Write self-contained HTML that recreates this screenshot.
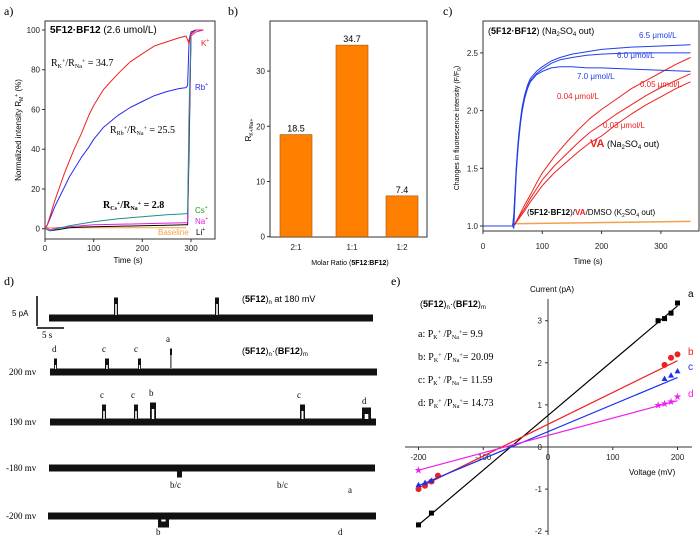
<!DOCTYPE html>
<html><head><meta charset="utf-8"><style>
html,body{margin:0;padding:0;background:#fff;}
svg{display:block;font-family:"Liberation Sans",Arial,sans-serif;}
.serif{font-family:"Liberation Serif",serif;}
.tk{font-size:8px;fill:#222;}
</style></head><body>
<svg id="fig" width="700" height="544" viewBox="0 0 700 544" xmlns="http://www.w3.org/2000/svg">
<g id="pa"></g>
<g id="pb"></g>
<g id="pc"></g>
<g id="pd"></g>
<g id="pe"></g>
</svg>
<script>
// ---------- Panel a data ----------
const aTimesKR=[0,5,10,15,20,30,40,50,60,75,90,100,120,150,175,200,225,250,275,290,293,296,300,310,325];
const aK=[0,2,6,10,14,21,28,34,40,48,57,62,70,78,84,88,92,94,96,97,95,93,98,100,100];
const aRb=[0,2,5,8,11,16,21,26,30,36,41,45,51,57,61,64,67,69,70.5,71,72,95,99,100,100];
const aTimes=[0,10,25,50,75,100,150,200,250,290,293,296,300,310,325];
const aCs=[0,-1,0,1.5,2.5,3.5,5,6,7,7.5,8,60,99,100,100];
const aNa=[1,-0.5,0.5,1,1.5,2,2.2,2.5,2.8,3,3,50,97,99,100];
const aLi=[0,-1,-0.5,0.5,0.8,1,1.2,1.5,1.7,2,2,40,98,100,100];
const aBaseTimes=[0,290];
const aBase=[0.5,0.5];
const aXTicks=[0,100,200,300];
const aYTicks=[0,20,40,60,80,100];
// ---------- Panel b data ----------
const bCats=["2:1","1:1","1:2"];
const bVals=[18.5,34.7,7.4];
const bYTicks=[0,10,20,30];
// ---------- Panel c data ----------
const cTimes=[0,50,52,54,56,58,60,63,66,70,75,80,90,100,115,130,150,175,200,250,300,350];
const cB65=[1,1,1.1,1.3,1.5,1.65,1.78,1.92,2.03,2.13,2.22,2.28,2.34,2.38,2.43,2.46,2.49,2.51,2.53,2.55,2.56,2.57];
const cB60=[1,1,1.08,1.28,1.48,1.63,1.76,1.9,2.01,2.11,2.2,2.26,2.32,2.36,2.41,2.44,2.46,2.48,2.49,2.5,2.5,2.5];
const cB70=[1,1,0.98,1.22,1.45,1.6,1.73,1.88,1.99,2.1,2.19,2.25,2.31,2.34,2.37,2.38,2.38,2.37,2.37,2.36,2.35,2.34];
const cRTimes=[52,60,70,80,90,100,120,140,160,180,200,225,250,275,300,325,350];
const cR04=[1.0,1.08,1.18,1.27,1.37,1.46,1.6,1.72,1.83,1.93,2.01,2.1,2.19,2.26,2.33,2.4,2.46];
const cR05=[1.0,1.07,1.15,1.24,1.32,1.4,1.52,1.62,1.72,1.81,1.88,1.97,2.05,2.13,2.2,2.26,2.32];
const cR03=[1.0,1.06,1.13,1.21,1.28,1.35,1.46,1.55,1.64,1.72,1.78,1.88,1.97,2.05,2.12,2.19,2.25];
const cOTimes=[50,350];
const cOrange=[1.02,1.04];
const cXTicks=[0,100,200,300];
const cYTicks=[1.0,1.5,2.0,2.5];
// ---------- Panel e data ----------
const eAx=[-200,-180,170,180,190,200], eAy=[-1.85,-1.57,3.0,3.05,3.18,3.42], eAfit=[-1.85,3.35];
const eBx=[-200,-190,-180,-170,180,190,200], eBy=[-1.0,-0.92,-0.82,-0.68,1.95,2.12,2.2], eBfit=[-0.97,2.05];
const eCx=[-200,-190,-180,180,190,200], eCy=[-0.9,-0.85,-0.8,1.62,1.7,1.8], eCfit=[-0.92,1.65];
const eDx=[-200,170,180,190,200], eDy=[-0.55,1.0,1.03,1.08,1.2], eDfit=[-0.55,1.1];
const eXTicks=[-200,-100,0,100,200];
const eYTicks=[-2,-1,0,1,2,3];

const NS="http://www.w3.org/2000/svg";
function mk(parent,tag,attrs,txt){const e=document.createElementNS(NS,tag);for(const k in attrs)e.setAttribute(k,attrs[k]);if(txt!==undefined)e.innerHTML=txt;parent.appendChild(e);return e;}
function pathOf(xs,ys,sx,sy){return xs.map((x,i)=>(i?'L':'M')+sx(x).toFixed(1)+','+sy(ys[i]).toFixed(1)).join('');}

// ===== Panel a =====
(function(){
const g=document.getElementById('pa');
const sx=t=>45+t*(146/300), sy=v=>228.7-v*1.987;
let t=mk(g,'text',{x:4,y:15,class:'serif','font-size':12},'a)');
const box=mk(g,'rect',{x:45,y:21,width:170,height:218,fill:'none',stroke:'#333','stroke-width':1});

aXTicks.forEach(v=>{mk(g,'line',{x1:sx(v),x2:sx(v),y1:239,y2:242,stroke:'#333'});const tx=mk(g,'text',{x:sx(v),y:251,'text-anchor':'middle',class:'tk'},v);});
aYTicks.forEach(v=>{mk(g,'line',{x1:42,x2:45,y1:sy(v),y2:sy(v),stroke:'#333'});const tx=mk(g,'text',{x:40,y:sy(v)+3,'text-anchor':'end',class:'tk'},v);});
const series=[[aBase,'#f5a040',aBaseTimes],[aLi,'#000',aTimes],[aNa,'#e020e0',aTimes],[aCs,'#20908a',aTimes],[aRb,'#2a2aee',aTimesKR],[aK,'#ee2222',aTimesKR]];
const nm=['baseline','li','na','cs','rb','k'];
series.forEach((s,i)=>{const p=mk(g,'path',{d:pathOf(s[2],s[0],sx,sy),fill:'none',stroke:s[1],'stroke-width':1,'stroke-linejoin':'round'});});
t=mk(g,'text',{x:50,y:33,'font-size':10},'<tspan font-weight="bold">5F12·BF12</tspan> (2.6 umol/L)');
t=mk(g,'text',{x:51,y:66,class:'serif','font-size':10},'R<tspan font-size="6" dy="2">K</tspan><tspan font-size="6" dy="-5">+</tspan><tspan dy="3">/R</tspan><tspan font-size="6" dy="2">Na</tspan><tspan font-size="6" dy="-5">+</tspan><tspan dy="3"> = 34.7</tspan>');
t=mk(g,'text',{x:110,y:133,class:'serif','font-size':10},'R<tspan font-size="6" dy="2">Rb</tspan><tspan font-size="6" dy="-5">+</tspan><tspan dy="3">/R</tspan><tspan font-size="6" dy="2">Na</tspan><tspan font-size="6" dy="-5">+</tspan><tspan dy="3"> = 25.5</tspan>');
t=mk(g,'text',{x:103,y:208,class:'serif','font-size':10,'font-weight':'bold'},'R<tspan font-size="6" dy="2">Cs</tspan><tspan font-size="6" dy="-5">+</tspan><tspan dy="3">/R</tspan><tspan font-size="6" dy="2">Na</tspan><tspan font-size="6" dy="-5">+</tspan><tspan dy="3"> = 2.8</tspan>');
const ions=[['K','#ee2222',201,46],['Rb','#2a2aee',195,90],['Cs','#20a020',195,213],['Na','#e020e0',195,224],['Li','#000',196,235]];
ions.forEach(o=>{const e=mk(g,'text',{x:o[2],y:o[3],'font-size':8,fill:o[1]},o[0]+'<tspan font-size="5" dy="-4">+</tspan>');});
t=mk(g,'text',{x:158,y:235,'font-size':8,fill:'#f5a040'},'Baseline');
t=mk(g,'text',{x:0,y:0,'font-size':8,transform:'translate(21,130) rotate(-90)','text-anchor':'middle'},'Normalized intensity R<tspan font-size="5" dy="2">M</tspan><tspan font-size="5" dy="-5">+</tspan><tspan dy="3"> (%)</tspan>');
t=mk(g,'text',{x:128,y:263,'font-size':8,'text-anchor':'middle'},'Time (s)');
})();

// ===== Panel b =====
(function(){
const g=document.getElementById('pb');
const sy=v=>236.7-v*5.52; const cx=[296,352,402];
let t=mk(g,'text',{x:228,y:15,class:'serif','font-size':12},'b)');
t=mk(g,'rect',{x:270,y:21,width:157,height:216,fill:'none',stroke:'#333'});
bYTicks.forEach(v=>{mk(g,'line',{x1:267,x2:270,y1:sy(v),y2:sy(v),stroke:'#333'});const e=mk(g,'text',{x:265,y:sy(v)+3,'text-anchor':'end',class:'tk'},v);});
bVals.forEach((v,i)=>{const r=mk(g,'rect',{x:cx[i]-16,y:sy(v),width:32,height:236.7-sy(v),fill:'#ff8000',stroke:'#b06020','stroke-width':0.7});
const l=mk(g,'text',{x:cx[i],y:sy(v)-3,'text-anchor':'middle','font-size':9},v.toFixed(1));
const c=mk(g,'text',{x:cx[i],y:250,'text-anchor':'middle',class:'tk'},bCats[i]);});
t=mk(g,'text',{x:350,y:265,'text-anchor':'middle','font-size':7},'Molar Ratio (<tspan font-weight="bold">5F12</tspan>:<tspan font-weight="bold">BF12</tspan>)');
t=mk(g,'text',{x:0,y:0,'font-size':8,transform:'translate(251,130) rotate(-90)','text-anchor':'middle'},'R<tspan font-size="5" dy="2">K+/Na+</tspan>');
})();

// ===== Panel c =====
(function(){
const g=document.getElementById('pc');
const sx=t=>483+t*0.593, sy=v=>226-(v-1)*115.4;
let t=mk(g,'text',{x:443,y:15,class:'serif','font-size':12},'c)');
t=mk(g,'path',{d:'M483,21V231H699V21Z',fill:'none',stroke:'#333'});
cXTicks.forEach(v=>{mk(g,'line',{x1:sx(v),x2:sx(v),y1:231,y2:234,stroke:'#333'});const e=mk(g,'text',{x:sx(v),y:249,'text-anchor':'middle',class:'tk'},v);});
cYTicks.forEach(v=>{mk(g,'line',{x1:480,x2:483,y1:sy(v),y2:sy(v),stroke:'#333'});const e=mk(g,'text',{x:478,y:sy(v)+3,'text-anchor':'end',class:'tk'},v.toFixed(1));});
t=mk(g,'path',{d:pathOf(cOTimes,cOrange,sx,sy),fill:'none',stroke:'#f0a050','stroke-width':1.5});
[[cR04,'0.04'],[cR05,'0.05'],[cR03,'0.03']].forEach(s=>{const p=mk(g,'path',{d:pathOf(cRTimes,s[0],sx,sy),fill:'none',stroke:'#ee2020','stroke-width':1,'stroke-linejoin':'round'});});
[[cB65,'6.5'],[cB60,'6.0'],[cB70,'7.0']].forEach(s=>{const p=mk(g,'path',{d:pathOf(cTimes,s[0],sx,sy),fill:'none',stroke:'#2040e8','stroke-width':1,'stroke-linejoin':'round'});});
const labs=[[639,38,'#2040e8','6.5 μmol/L'],[617,58,'#2040e8','6.0 μmol/L'],[577,79,'#2040e8','7.0 μmol/L'],[557,99,'#ee2020','0.04 μmol/L'],[640,87,'#ee2020','0.05 μmol/L'],[603,128,'#ee2020','0.03 μmol/L']];
labs.forEach(l=>{const e=mk(g,'text',{x:l[0],y:l[1],'font-size':8,fill:l[2]},l[3]);});
t=mk(g,'text',{x:488,y:34,'font-size':9},'(<tspan font-weight="bold">5F12·BF12</tspan>) (Na<tspan font-size="6" dy="2">2</tspan><tspan dy="-2">SO</tspan><tspan font-size="6" dy="2">4</tspan><tspan dy="-2"> out)</tspan>');
t=mk(g,'text',{x:590,y:147,'font-size':9},'<tspan font-weight="bold" fill="#ee2020" font-size="11">VA</tspan> (Na<tspan font-size="6" dy="2">2</tspan><tspan dy="-2">SO</tspan><tspan font-size="6" dy="2">4</tspan><tspan dy="-2"> out)</tspan>');
t=mk(g,'text',{x:527,y:215,'font-size':8},'(<tspan font-weight="bold">5F12·BF12</tspan>)/<tspan font-weight="bold" fill="#ee2020">VA</tspan>/DMSO (K<tspan font-size="5" dy="2">2</tspan><tspan dy="-2">SO</tspan><tspan font-size="5" dy="2">4</tspan><tspan dy="-2"> out)</tspan>');
t=mk(g,'text',{x:0,y:0,'font-size':7,transform:'translate(459,128) rotate(-90)','text-anchor':'middle'},'Changes in fluorescence intensity (F/F<tspan font-size="5" dy="2">0</tspan><tspan dy="-2">)</tspan>');
t=mk(g,'text',{x:588,y:264,'font-size':8,'text-anchor':'middle'},'Time (s)');
})();

// ===== Panel d =====
(function(){
const g=document.getElementById('pd');
let t=mk(g,'text',{x:4,y:285,class:'serif','font-size':12},'d)');
const traces=[
 [318,49,373,[[114,4,-17],[215,4,-17]]],
 [372,50,377,[[54,3,-10],[105,4,-10],[138,3,-10],[170,2,-20]]],
 [422,50,376,[[102,4,-14],[134,4,-14],[150,6,-16],[300,5,-14],[362,9,-11]]],
 [468,49,375,[[177,5,6]]],
 [516,48,376,[[158,11,8]]]
];
traces.forEach((tr,i)=>{const r=mk(g,'rect',{x:tr[1],y:tr[0]-3.5,width:tr[2]-tr[1],height:7,fill:'#111'});
tr[3].forEach(ev=>{const ys=ev[2]<0?tr[0]+ev[2]-3.5:tr[0]-3.5;const h=Math.abs(ev[2])+7;mk(g,'rect',{x:ev[0],y:ys,width:ev[1],height:h,fill:'#111'});mk(g,'rect',{x:ev[0]+ev[1]*0.3,y:ev[2]<0?tr[0]+ev[2]+3:tr[0]+3.5,width:Math.max(1,ev[1]*0.4),height:Math.abs(ev[2])-6,fill:'#fff'});});});
mk(g,'line',{x1:37,x2:37,y1:296,y2:326,stroke:'#000','stroke-width':1.5});
mk(g,'line',{x1:37,x2:64,y1:328,y2:328,stroke:'#000','stroke-width':1.5});
const txts=[[12,316,'5 pA','sans',8],[42,338,'5 s','serif',9],[9,375,'200 mv','serif',9],[9,425,'190 mv','serif',9],[6,471,'-180 mv','serif',9],[6,519,'-200 mv','serif',9],
 [52,352,'d','serif',9],[102,352,'c','serif',9],[134,352,'c','serif',9],[166,342,'a','serif',9],
 [100,398,'c','serif',9],[131,398,'c','serif',9],[149,396,'b','serif',9],[297,398,'c','serif',9],[362,404,'d','serif',9],
 [170,488,'b/c','serif',9],[277,488,'b/c','serif',9],[348,493,'a','serif',9],[156,535,'b','serif',9],[338,535,'d','serif',9]];
txts.forEach(a=>{const e=mk(g,'text',{x:a[0],y:a[1],'font-size':a[4],class:a[3]=='serif'?'serif':''},a[2]);});
t=mk(g,'text',{x:242,y:302,'font-size':9},'(<tspan font-weight="bold">5F12</tspan>)<tspan font-size="6" dy="2">n</tspan><tspan dy="-2"> at 180 mV</tspan>');
t=mk(g,'text',{x:242,y:354,'font-size':9},'(<tspan font-weight="bold">5F12</tspan>)<tspan font-size="6" dy="2">n</tspan><tspan dy="-2">·(</tspan><tspan font-weight="bold">BF12</tspan>)<tspan font-size="6" dy="2">m</tspan>');
})();

// ===== Panel e =====
(function(){
const g=document.getElementById('pe');
const sx=v=>548+v*0.6475, sy=v=>447-v*42.1;
let t=mk(g,'text',{x:391,y:285,class:'serif','font-size':12},'e)');
t=mk(g,'line',{x1:405,x2:692,y1:447,y2:447,stroke:'#333'});
t=mk(g,'line',{x1:548,x2:548,y1:299,y2:535,stroke:'#333'});
eXTicks.forEach(v=>{mk(g,'line',{x1:sx(v),x2:sx(v),y1:447,y2:450,stroke:'#333'});const e=mk(g,'text',{x:sx(v),y:460,'text-anchor':'middle',class:'tk'},v);});
eYTicks.forEach(v=>{mk(g,'line',{x1:545,x2:548,y1:sy(v),y2:sy(v),stroke:'#333'});const e=mk(g,'text',{x:542,y:sy(v)+3,'text-anchor':'end',class:'tk'},v);});
const S=[[eAx,eAy,eAfit,'#000','sq','a'],[eBx,eBy,eBfit,'#ee2020','ci','b'],[eCx,eCy,eCfit,'#1a30ee','tr','c'],[eDx,eDy,eDfit,'#ee20ee','st','d']];
S.forEach(s=>{const l=mk(g,'line',{x1:sx(-200),y1:sy(s[2][0]),x2:sx(200),y2:sy(s[2][1]),stroke:s[3],'stroke-width':1.2});
s[0].forEach((x,i)=>{const X=sx(x),Y=sy(s[1][i]);let m;
 if(s[4]=='sq')m=mk(g,'rect',{x:X-2.5,y:Y-2.5,width:5,height:5,fill:s[3]});
 else if(s[4]=='ci')m=mk(g,'circle',{cx:X,cy:Y,r:3,fill:s[3]});
 else if(s[4]=='tr')m=mk(g,'path',{d:`M${X},${Y-3.2}L${X+3},${Y+2.2}L${X-3},${Y+2.2}Z`,fill:s[3]});
 else m=mk(g,'text',{x:X,y:Y+3.5,'text-anchor':'middle','font-size':10,fill:s[3]},'★');
 });});
[[688,297,'#000','a'],[688,355,'#ee2020','b'],[688,370,'#1a30ee','c'],[688,397,'#ee20ee','d']].forEach(a=>{const e=mk(g,'text',{x:a[0],y:a[1],'font-size':10,fill:a[2]},a[3]);});
t=mk(g,'text',{x:530,y:292,'font-size':8},'Current (pA)');
t=mk(g,'text',{x:629,y:475,'font-size':8},'Voltage (mV)');
t=mk(g,'text',{x:420,y:307,'font-size':9},'(<tspan font-weight="bold">5F12</tspan>)<tspan font-size="6" dy="2">n</tspan><tspan dy="-2">·(</tspan><tspan font-weight="bold">BF12</tspan>)<tspan font-size="6" dy="2">m</tspan>');
[['a','9.9',337],['b','20.09',360],['c','11.59',383],['d','14.73',406]].forEach(r=>{const e=mk(g,'text',{x:418,y:r[2],class:'serif','font-size':10},r[0]+': P<tspan font-size="6" dy="2">K</tspan><tspan font-size="6" dy="-5">+</tspan><tspan dy="3"> /P</tspan><tspan font-size="6" dy="2">Na</tspan><tspan font-size="6" dy="-5">+</tspan><tspan dy="3">= '+r[1]+'</tspan>');});
})();
</script>
</body></html>
